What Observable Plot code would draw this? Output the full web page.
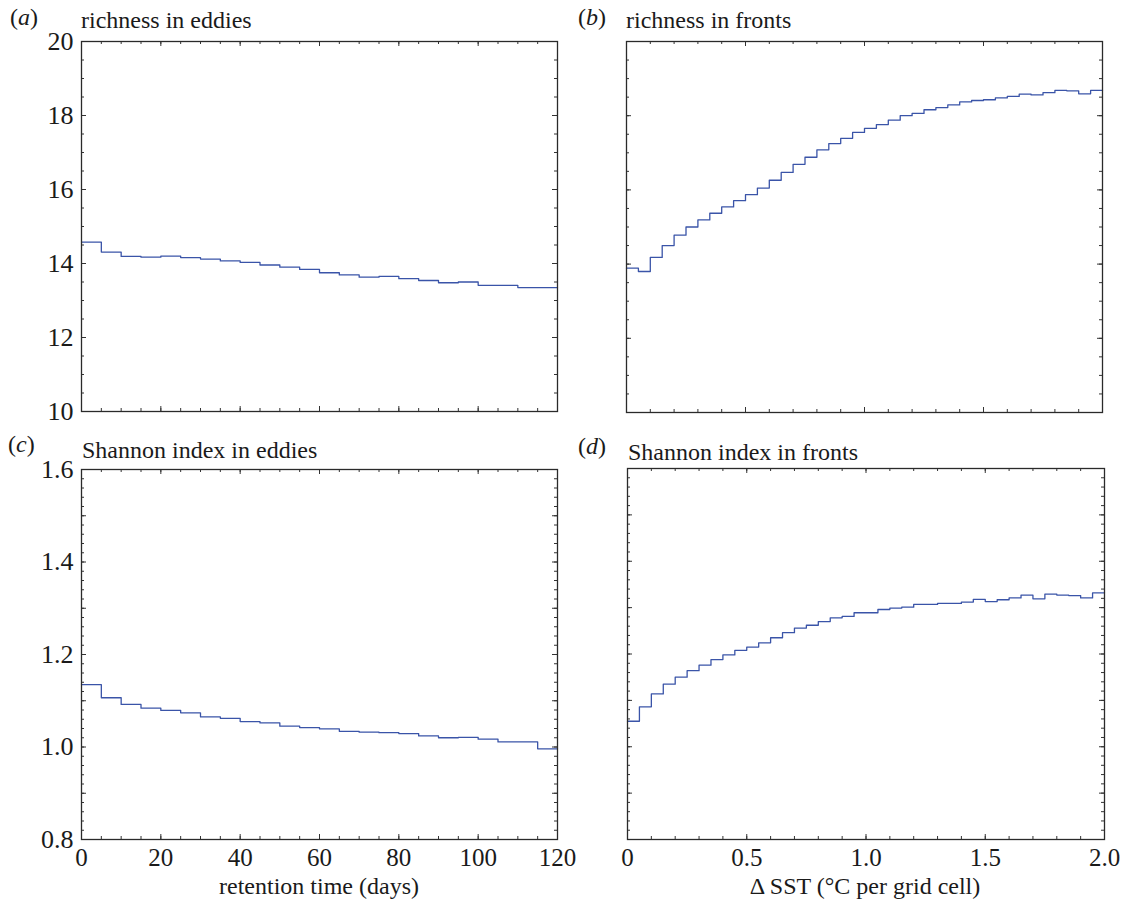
<!DOCTYPE html>
<html><head><meta charset="utf-8">
<script src="https://cdn.jsdelivr.net/npm/d3@7"></script>
<script src="https://cdn.jsdelivr.net/npm/@observablehq/plot@0.6"></script>
<style>
body{margin:0;background:#fff;}
#wrap{position:relative;width:1129px;height:899px;font-family:"Liberation Serif","Times New Roman",serif;color:#1a1a1a;background:#fff;}
.panel{position:absolute;}
.panel svg, .panel svg text{font-family:"Liberation Serif","Times New Roman",serif !important;}
.lab{position:absolute;font-size:24px;white-space:nowrap;line-height:1;}
.xt{line-height:20px;}
</style></head><body><div id="wrap"></div>
<script>
// ---- data ----
const richnessEddies = [14.58,14.31,14.19,14.17,14.20,14.16,14.12,14.07,14.03,13.96,13.90,13.84,13.75,13.69,13.63,13.65,13.59,13.54,13.48,13.50,13.41,13.41,13.35,13.35];
const richnessFronts = [13.89,13.80,14.18,14.50,14.78,15.00,15.19,15.37,15.54,15.71,15.87,16.05,16.26,16.47,16.69,16.88,17.08,17.25,17.39,17.55,17.66,17.76,17.88,18.00,18.06,18.16,18.22,18.29,18.37,18.41,18.43,18.48,18.52,18.58,18.56,18.62,18.68,18.67,18.59,18.68];
const shannonEddies = [1.135,1.1065,1.092,1.084,1.079,1.074,1.065,1.062,1.055,1.052,1.045,1.042,1.039,1.034,1.032,1.031,1.029,1.024,1.020,1.021,1.017,1.011,1.011,0.996];
const shannonFronts = [1.055,1.086,1.114,1.135,1.150,1.164,1.176,1.188,1.198,1.208,1.215,1.224,1.235,1.246,1.256,1.262,1.270,1.278,1.281,1.289,1.289,1.296,1.299,1.301,1.307,1.307,1.309,1.309,1.312,1.318,1.313,1.317,1.321,1.327,1.319,1.329,1.327,1.326,1.321,1.332];
const retentionBinWidth = 5;     // days
const sstBinWidth = 0.05;        // °C per grid cell
const richnessTicks = [10,12,14,16,18,20];
const richnessTickLabels = ["10","12","14","16","18","20"];
const shannonTicks = [0.8,1.0,1.2,1.4,1.6];
const shannonTickLabels = ["0.8","1.0","1.2","1.4","1.6"];
const retentionTicks = [0,20,40,60,80,100,120];
const retentionTickLabels = ["0","20","40","60","80","100","120"];
const sstTicks = [0,0.5,1,1.5,2];
const sstTickLabels = ["0","0.5","1.0","1.5","2.0"];
const panelTitles = ["richness in eddies","richness in fronts","Shannon index in eddies","Shannon index in fronts"];
const panelLetters = ["a","b","c","d"];
const xTitles = ["retention time (days)","\u0394 SST (\u00b0C per grid cell)"];

// minor / major tick positions
const richnessMinor = d3.range(10, 20.001, 0.5), richnessMajor = d3.range(10, 20.001, 2);
const shannonMinor = d3.range(0.8, 1.6001, 0.02), shannonMajor = d3.range(0.8, 1.6001, 0.1);
const retentionMinor = d3.range(0, 120.001, 5), retentionMajor = d3.range(0, 120.001, 20);
const sstMinor = d3.range(0, 2.0001, 0.1), sstMajor = d3.range(0, 2.0001, 0.5);

const lineColor = "#3a54a8";
const ink = "#1a1a1a";
const serif = '"Liberation Serif","Times New Roman",serif';
const wrap = document.getElementById("wrap");

function stepPoints(values, w) {
  const pts = values.map((v, i) => ({x: i * w, y: v}));
  pts.push({x: values.length * w, y: values[values.length - 1]});
  return pts;
}

function panel(o) {
  const fh = o.height - o.mT - o.mB, fw = o.width - o.mL - o.mR;
  const majorLen = 5, minorLen = 3;
  const tk = {stroke: "#333", strokeWidth: 1};
  const marks = [
    Plot.tickX(o.xMinor, {...tk, insetTop: fh - minorLen}),
    Plot.tickX(o.xMinor, {...tk, insetBottom: fh - minorLen}),
    Plot.tickX(o.xMajor, {...tk, insetTop: fh - majorLen}),
    Plot.tickX(o.xMajor, {...tk, insetBottom: fh - majorLen}),
    Plot.tickY(o.yMinor, {...tk, insetRight: fw - minorLen}),
    Plot.tickY(o.yMinor, {...tk, insetLeft: fw - minorLen}),
    Plot.tickY(o.yMajor, {...tk, insetRight: fw - majorLen}),
    Plot.tickY(o.yMajor, {...tk, insetLeft: fw - majorLen}),
    Plot.line(stepPoints(o.values, o.binW), {x: "x", y: "y", curve: "step-after", stroke: lineColor, strokeWidth: 1.3}),
    Plot.frame({stroke: "#2a2a2a", strokeWidth: 1.3})
  ];
  if (o.yTicks) marks.push(Plot.axisY(o.yTicks, {tickSize: 0, tickPadding: 8, fontSize: 26, fontFamily: serif, fill: ink, label: null,
    tickFormat: d => o.yLabels[o.yTicks.indexOf(d)]}));
  if (o.xTicks) marks.push(Plot.axisX(o.xTicks, {tickSize: 0, tickPadding: 9, fontSize: 25, fontFamily: serif, fill: ink, label: null,
    tickFormat: d => o.xLabels[o.xTicks.indexOf(d)]}));
  const chart = Plot.plot({
    width: o.width, height: o.height,
    marginLeft: o.mL, marginRight: o.mR, marginTop: o.mT, marginBottom: o.mB,
    x: {domain: o.xDomain, axis: null},
    y: {domain: o.yDomain, axis: null},
    style: `font-family: ${serif}; font-size: 26px; background: transparent; overflow: visible; color: ${ink};`,
    marks
  });
  const div = document.createElement("div");
  div.className = "panel";
  div.style.left = o.left + "px"; div.style.top = o.top + "px";
  div.appendChild(chart);
  wrap.appendChild(div);
}

function label(html, left, top, extra, cls) {
  const d = document.createElement("div");
  d.className = "lab" + (cls ? " " + cls : "");
  d.innerHTML = html;
  d.style.left = left + "px"; d.style.top = top + "px";
  if (extra) Object.assign(d.style, extra);
  wrap.appendChild(d);
}

// (a)
panel({values: richnessEddies, binW: retentionBinWidth, xDomain: [0,120], yDomain: [10,20],
  xMinor: retentionMinor, xMajor: retentionMajor, yMinor: richnessMinor, yMajor: richnessMajor,
  yTicks: richnessTicks, yLabels: richnessTickLabels,
  left: 0, top: 30, width: 570, height: 390, mL: 81, mR: 13, mT: 11, mB: 9});
// (b)
panel({values: richnessFronts, binW: sstBinWidth, xDomain: [0,2], yDomain: [10,20],
  xMinor: sstMinor, xMajor: sstMajor, yMinor: richnessMinor, yMajor: richnessMajor,
  left: 570, top: 30, width: 559, height: 390, mL: 56, mR: 27, mT: 11, mB: 8});
// (c)
panel({values: shannonEddies, binW: retentionBinWidth, xDomain: [0,120], yDomain: [0.8,1.6],
  xMinor: retentionMinor, xMajor: retentionMajor, yMinor: shannonMinor, yMajor: shannonMajor,
  yTicks: shannonTicks, yLabels: shannonTickLabels, xTicks: retentionTicks, xLabels: retentionTickLabels,
  left: 0, top: 460, width: 570, height: 439, mL: 81, mR: 13, mT: 9, mB: 60});
// (d)
panel({values: shannonFronts, binW: sstBinWidth, xDomain: [0,2], yDomain: [0.8,1.6],
  xMinor: sstMinor, xMajor: sstMajor, yMinor: shannonMinor, yMajor: shannonMajor,
  xTicks: sstTicks, xLabels: sstTickLabels,
  left: 570, top: 460, width: 559, height: 439, mL: 57, mR: 25, mT: 8, mB: 60});

// panel letters and titles
label(`(<i>${panelLetters[0]}</i>)`, 10, 5);
label(panelTitles[0], 81, 8);
label(`(<i>${panelLetters[1]}</i>)`, 578, 5);
label(panelTitles[1], 626, 8);
label(`(<i>${panelLetters[2]}</i>)`, 8, 432);
label(panelTitles[2], 82, 438);
label(`(<i>${panelLetters[3]}</i>)`, 578, 434);
label(panelTitles[3], 628, 440);
// x-axis titles
label(xTitles[0], 319, 876, {transform: "translateX(-50%)"}, "xt");
label(xTitles[1], 865, 876, {transform: "translateX(-50%)"}, "xt");
</script>
</body></html>
